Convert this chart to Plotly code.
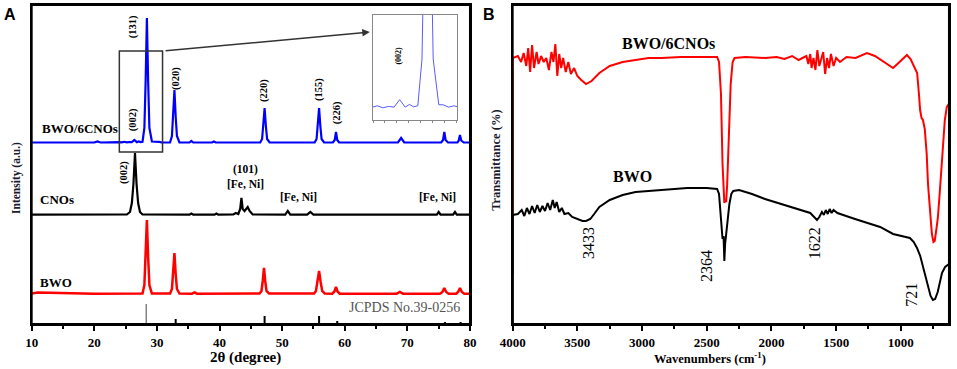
import plotly.graph_objects as go

# ---------------- Panel A: XRD (2θ in degrees, intensity in a.u.) ----------------
bwo_x = [10, 11, 20, 27.7, 28.0, 28.2, 28.4, 28.6, 28.8, 29.2, 32.1, 32.4, 32.6, 32.8, 33.0, 33.2, 33.6,
         35.6, 36.0, 36.4, 46.4, 46.7, 46.9, 47.1, 47.3, 47.5, 47.9, 55.1, 55.4, 55.65, 55.9, 56.15, 56.4, 56.8,
         58.0, 58.35, 58.6, 58.85, 59.2, 68.3, 68.8, 69.3, 75.2, 75.6, 75.9, 76.2, 76.6,
         77.8, 78.1, 78.4, 78.7, 79.1, 80]
bwo_y = [0.5, 1.5, 0.3, 0.5, 9, 37, 74, 37, 9, 0.5, 0.5, 5, 20, 41, 20, 5, 0.5,
         0.3, 1.5, 0.3, 0.5, 3, 13, 26, 13, 3, 0.5, 0.5, 3, 12, 23, 12, 3, 0.5,
         0.3, 2.5, 7, 2.5, 0.3, 0.3, 2, 0.3, 0.3, 2, 6, 2, 0.3,
         0.3, 2, 6, 2, 0.3, 0.3]

cno_x = [10, 25.2, 25.7, 26.0, 26.25, 26.5, 26.75, 27.0, 27.3, 27.7, 35.2, 35.5, 35.8, 39.2, 39.5, 39.8,
         42.2, 42.6, 43.0, 43.3, 43.5, 43.7, 44.0, 44.5, 44.8, 45.3, 50.5, 50.9, 51.3, 54.0, 54.5, 55.0,
         74.7, 75.0, 75.3, 77.3, 77.6, 77.9, 80]
cno_y = [0.3, 0.5, 3, 12, 31, 62, 31, 12, 3, 0.5, 0.3, 1.5, 0.3, 0.3, 1.5, 0.3,
         0.5, 2, 1, 6, 17, 6, 4, 8, 4, 0.5, 0.3, 4, 0.3, 0.3, 3, 0.3,
         0.3, 3, 0.3, 0.3, 3, 0.3, 0.3]

comp_x = [10, 15, 20, 20.5, 21, 24, 24.3, 24.8, 25.2, 25.6, 26.0, 26.4, 26.8, 27.1, 27.4, 27.7,
          28.0, 28.2, 28.4, 28.6, 28.8, 29.2, 29.5, 29.9, 30.3, 30.7,
          32.1, 32.4, 32.6, 32.8, 33.0, 33.2, 33.6, 35.2, 35.5, 35.8, 38.8, 39.1, 39.4,
          46.5, 46.8, 47.0, 47.2, 47.4, 47.6, 48.0, 55.2, 55.5, 55.7, 55.9, 56.1, 56.3, 56.7,
          58.1, 58.4, 58.6, 58.8, 59.1, 68.5, 69.0, 69.5, 75.4, 75.7, 75.9, 76.1, 76.5,
          78.0, 78.2, 78.4, 78.6, 79.0, 80]
comp_y = [0.5, 0.5, 0.5, 1.5, 0.5, 0.8, 0.6, 1.2, 0.6, 1.0, 0.8, 3, 0.8, 1.6, 0.9, 1.2,
          15, 62, 125, 62, 15, 1.5, 1.5, 0.8, 1.2, 0.6,
          0.5, 7, 26, 53, 26, 7, 0.5, 0.5, 2, 0.5, 0.5, 1.5, 0.5,
          0.5, 4, 17, 35, 17, 4, 0.5, 0.5, 4, 17, 35, 17, 4, 0.5,
          0.5, 3, 11, 3, 0.5, 0.5, 5, 0.5, 0.5, 3, 11, 3, 0.5,
          0.5, 2.5, 8, 2.5, 0.5, 0.5]

jcpds_pos = [33.0, 47.2, 55.9, 58.8, 76.0, 78.5]
jcpds_h = [5, 8, 8, 3, 2, 2]
jcpds_main_pos = [28.3]
jcpds_main_h = [20]

offset_bwo, offset_cno, offset_comp = 30, 109, 181

xrd_ticks = [10, 20, 30, 40, 50, 60, 70, 80]
xrd_minor = [15, 25, 35, 45, 55, 65, 75]

# ---------------- Panel B: FTIR (wavenumber, transmittance a.u.) ----------------
ftir_comp = [(4000, 49), (4000, 266), (3960, 268), (3935, 262), (3915, 271), (3895, 258), (3880, 276),
             (3865, 252), (3850, 279), (3835, 256), (3815, 272), (3800, 260), (3780, 268), (3760, 262),
             (3740, 266), (3720, 254), (3700, 272), (3685, 262), (3670, 280), (3655, 248), (3640, 270),
             (3625, 256), (3610, 266), (3590, 252), (3570, 262), (3550, 250), (3525, 256), (3500, 248),
             (3470, 244), (3433, 240), (3390, 243), (3330, 251), (3250, 258), (3150, 262), (3050, 264),
             (2950, 266), (2850, 266), (2700, 267), (2550, 267), (2420, 267), (2405, 262), (2390, 230),
             (2378, 160), (2370, 125), (2364, 121), (2358, 124), (2350, 122), (2342, 140), (2330, 190),
             (2315, 240), (2300, 262), (2285, 266), (2200, 267), (2050, 266), (1960, 267), (1900, 265),
             (1840, 268), (1790, 264), (1760, 266), (1730, 268), (1715, 260), (1700, 270), (1690, 256),
             (1675, 266), (1660, 254), (1645, 274), (1630, 258), (1615, 264), (1600, 272), (1585, 250),
             (1570, 266), (1555, 256), (1540, 270), (1520, 258), (1500, 266), (1470, 262), (1420, 267),
             (1350, 266), (1262, 271), (1200, 268), (1120, 261), (1060, 256), (1010, 262), (953, 269),
             (925, 265), (900, 258), (874, 251), (860, 230), (851, 214), (840, 206), (829, 204),
             (815, 195), (800, 170), (790, 140), (775, 110), (760, 90), (748, 82), (738, 83), (725, 95),
             (714, 106), (700, 130), (683, 164), (670, 190), (660, 204), (645, 217), (635, 219), (625, 217)]

ftir_bwo = [(4000, 0), (4000, 109), (3960, 110), (3930, 114), (3910, 108), (3890, 116), (3870, 110),
            (3850, 118), (3830, 111), (3810, 119), (3790, 112), (3770, 118), (3750, 113), (3730, 121),
            (3710, 114), (3690, 124), (3675, 116), (3660, 122), (3640, 112), (3620, 116), (3600, 110),
            (3570, 111), (3540, 107), (3500, 105), (3460, 103), (3433, 103), (3400, 105), (3370, 110),
            (3330, 117), (3250, 124), (3150, 129), (3050, 132), (2950, 133), (2800, 135), (2650, 136),
            (2500, 136), (2420, 135), (2405, 130), (2390, 105), (2378, 85), (2370, 88), (2364, 63),
            (2358, 80), (2350, 90), (2340, 105), (2325, 120), (2310, 130), (2295, 133), (2250, 134),
            (2150, 130), (2050, 125), (1950, 121), (1850, 117), (1760, 113), (1700, 111), (1670, 107),
            (1648, 104), (1630, 107), (1610, 112), (1595, 109), (1580, 114), (1565, 110), (1550, 115),
            (1535, 111), (1520, 114), (1490, 111), (1450, 109), (1400, 107), (1330, 104), (1260, 101),
            (1160, 97), (1060, 90), (990, 88), (930, 86), (900, 82), (875, 76), (850, 68), (829, 57),
            (810, 46), (790, 36), (770, 28), (752, 24), (735, 25), (715, 32), (700, 40), (682, 51),
            (658, 57), (628, 60)]

ftir_major = [4000, 3500, 3000, 2500, 2000, 1500, 1000]
ftir_minor = [3750, 3250, 2750, 2250, 1750, 1250, 750]

SERIF = "Liberation Serif"
SANS = "Liberation Sans"

fig = go.Figure()

# Panel A traces
fig.add_trace(go.Scatter(x=bwo_x, y=[v + offset_bwo for v in bwo_y], mode="lines",
                         line=dict(color="#ff0000", width=2.5), xaxis="x", yaxis="y", showlegend=False))
fig.add_trace(go.Scatter(x=cno_x, y=[v + offset_cno for v in cno_y], mode="lines",
                         line=dict(color="#000000", width=2.2), xaxis="x", yaxis="y", showlegend=False))
fig.add_trace(go.Scatter(x=comp_x, y=[v + offset_comp for v in comp_y], mode="lines",
                         line=dict(color="#0000ff", width=2.2), xaxis="x", yaxis="y", showlegend=False))

sx, sy = [], []
for p, h in zip(jcpds_pos, jcpds_h):
    sx += [p, p, None]
    sy += [0, h, None]
fig.add_trace(go.Scatter(x=sx, y=sy, mode="lines", line=dict(color="black", width=2),
                         xaxis="x", yaxis="y", showlegend=False))
gx, gy = [], []
for p, h in zip(jcpds_main_pos, jcpds_main_h):
    gx += [p, p, None]
    gy += [0, h, None]
fig.add_trace(go.Scatter(x=gx, y=gy, mode="lines", line=dict(color="#808080", width=1.5),
                         xaxis="x", yaxis="y", showlegend=False))

# Inset (zoomed blue curve)
fig.add_trace(go.Scatter(x=comp_x, y=comp_y, mode="lines", line=dict(color="#5a5aff", width=1),
                         xaxis="x3", yaxis="y3", showlegend=False))

# Panel B traces
fig.add_trace(go.Scatter(x=[p[0] for p in ftir_comp], y=[p[1] for p in ftir_comp], mode="lines",
                         line=dict(color="#ff0000", width=2), xaxis="x2", yaxis="y2", showlegend=False))
fig.add_trace(go.Scatter(x=[p[0] for p in ftir_bwo], y=[p[1] for p in ftir_bwo], mode="lines",
                         line=dict(color="#000000", width=2), xaxis="x2", yaxis="y2", showlegend=False))

ydom = [0.122, 0.9864]
tickfont = dict(family=SERIF, size=13, color="black", weight="bold")
common = dict(showline=True, linecolor="black", linewidth=2, mirror=True, showgrid=False,
              zeroline=False, automargin=False)

fig.update_layout(
    template="none",
    width=957, height=369, margin=dict(l=0, r=0, t=0, b=0, autoexpand=False),
    paper_bgcolor="white", plot_bgcolor="white",
    xaxis=dict(domain=[0.0331, 0.4911], range=[10, 80], anchor="y", ticks="outside", ticklen=5,
               tickwidth=2, tickcolor="black", tickvals=xrd_ticks, tickfont=tickfont,
               minor=dict(tickvals=xrd_minor, ticks="outside", ticklen=3, tickwidth=2, tickcolor="black"),
               **common),
    yaxis=dict(domain=ydom, range=[0, 319], anchor="x", ticks="", showticklabels=False, **common),
    xaxis2=dict(domain=[0.5357, 0.9916], range=[4000, 628], anchor="y2", ticks="outside", ticklen=5,
                tickwidth=2, tickcolor="black", tickvals=ftir_major, tickfont=tickfont,
                minor=dict(tickvals=ftir_minor, ticks="outside", ticklen=3, tickwidth=2, tickcolor="black"),
                **common),
    yaxis2=dict(domain=ydom, range=[0, 319], anchor="x2", ticks="", showticklabels=False, **common),
    xaxis3=dict(domain=[0.3898, 0.4775], range=[24.5, 30.5], anchor="y3", showline=True, linecolor="#888888",
                linewidth=1, mirror=True, ticks="outside", ticklen=2, tickwidth=1, tickcolor="#888888",
                tick0=24.5, dtick=0.85, showticklabels=False, showgrid=False, zeroline=False,
                automargin=False),
    yaxis3=dict(domain=[0.6748, 0.9593], range=[-3, 28], anchor="x3", showline=True, linecolor="#888888",
                linewidth=1, mirror=True, ticks="", showticklabels=False, showgrid=False, zeroline=False,
                automargin=False),
)

# Frames around both panels
for xr, yr in (("x domain", "y domain"), ("x2 domain", "y2 domain")):
    fig.add_shape(type="rect", xref=xr, yref=yr, x0=0, x1=1, y0=0, y1=1,
                  line=dict(color="black", width=2), layer="above")

# Rectangle marking the inset region and arrow to inset
fig.add_shape(type="rect", xref="x", yref="y", x0=24.0, x1=30.9, y0=172, y1=273,
              line=dict(color="#333333", width=1.5))
fig.add_annotation(xref="x", yref="y", axref="x", ayref="y", x=64.0, y=292, ax=30.9, ay=273,
                   showarrow=True, arrowhead=2, arrowsize=1, arrowwidth=1.5, arrowcolor="#333333", text=" ")

def txt(x, y, s, size=11, bold=True, angle=0, xref="x", yref="y", color="black", xanchor="center",
        family=SERIF):
    fig.add_annotation(x=x, y=y, xref=xref, yref=yref, text=s, showarrow=False, textangle=angle,
                       xanchor=xanchor, yanchor="middle",
                       font=dict(family=family, size=size, color=color, weight="bold" if bold else "normal"))

# Panel A labels
txt(11.3, 196, "BWO/6CNOs", 13, xanchor="left")
txt(11.0, 124, "CNOs", 13, xanchor="left")
txt(11.0, 41, "BWO", 13, xanchor="left")
txt(26.2, 297, "(131)", 10.5, angle=-90)
txt(33.05, 245, "(020)", 10.5, angle=-90)
txt(47.1, 234, "(220)", 10.5, angle=-90)
txt(55.9, 234, "(155)", 10.5, angle=-90)
txt(58.8, 211, "(226)", 10.5, angle=-90)
txt(26.2, 204, "(002)", 10.5, angle=-90)
txt(24.75, 151, "(002)", 10.5, angle=-90)
txt(44.1, 154, "(101)", 11.5)
txt(44.1, 140, "[Fe, Ni]", 11.5)
txt(52.6, 127, "[Fe, Ni]", 11.5)
txt(74.8, 127, "[Fe, Ni]", 11.5)
txt(78.7, 16, "JCPDS No.39-0256", 14, bold=False, color="#555555", xanchor="right")
txt(26.35, 16, "(002)", 8, angle=-90, xref="x3", yref="y3")

# Panel B labels
txt(2799, 281, "BWO/6CNOs", 16, xref="x2", yref="y2")
txt(3070, 147, "BWO", 16, xref="x2", yref="y2")
txt(3410, 81, "3433", 16, bold=False, angle=-90, xref="x2", yref="y2")
txt(2498, 58, "2364", 16, bold=False, angle=-90, xref="x2", yref="y2")
txt(1662, 81, "1622", 16, bold=False, angle=-90, xref="x2", yref="y2")
txt(915, 29, "721", 16, bold=False, angle=-90, xref="x2", yref="y2")

# Axis titles and panel letters
txt(0.0167, 0.5176, "Intensity (a.u.)", 11.5, angle=-90, xref="paper", yref="paper", color="#1a1a2e")
txt(0.518, 0.566, "Transmittance (%)", 12.5, angle=-90, xref="paper", yref="paper", color="#1a1a2e")
txt(0.257, 0.0300, "2θ (degree)", 15, xref="paper", yref="paper")
txt(0.742, 0.030, "Wavenumbers (cm<sup>-1</sup>)", 12.5, xref="paper", yref="paper")
txt(0.0105, 0.962, "A", 16, xref="paper", yref="paper", family=SANS)
txt(0.5105, 0.962, "B", 16, xref="paper", yref="paper", family=SANS)

fig.write_html("out.html", config={"displayModeBar": False},
               post_script="document.body.style.margin='0';document.body.style.padding='0';")
